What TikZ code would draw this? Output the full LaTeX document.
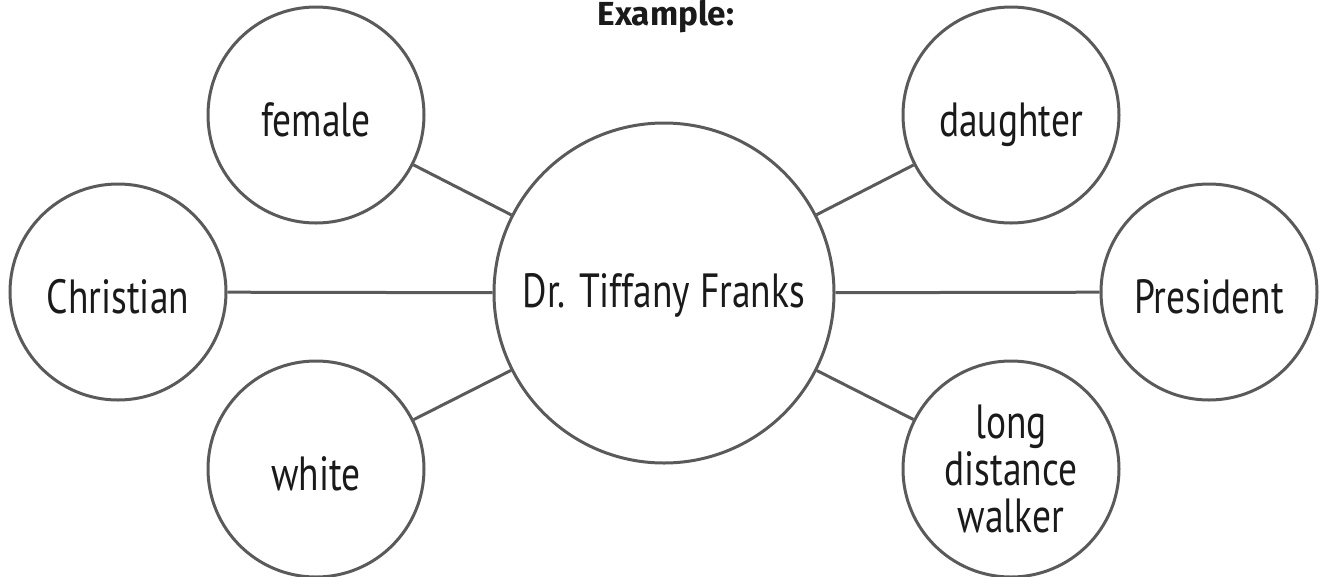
\documentclass[tikz,border=0pt]{standalone}
\usepackage{fontspec}
\setmainfont{Fira Sans}
\newfontfamily\handfont[FakeStretch=0.78]{PT Sans}
\definecolor{linegray}{HTML}{5A5A5A}
\definecolor{textdark}{HTML}{1A1A1A}
\begin{document}
\begin{tikzpicture}[x=0.75pt,y=-0.75pt,
  bubble/.style={circle,draw=linegray,line width=2.25pt,inner sep=0pt,
    minimum size=162pt,align=center,text=textdark,
    font=\handfont\fontsize{36}{35.25}\selectfont},
  onebubble/.style={bubble,text height=36pt,text depth=4.5pt},
  bigbubble/.style={bubble,minimum size=255pt,text height=26pt,text depth=5pt},
  link/.style={draw=linegray,line width=2.25pt}]
\useasboundingbox (0,0) rectangle (1322,576);
\node[font=\bfseries\fontsize{25}{29}\selectfont,text=textdark] (title) at (666,17) {Example:};
\node[bigbubble] (center) at (664,293) {Dr. Tiffany Franks};
\node[onebubble] (female) at (316,115) {female};
\node[onebubble] (christian) at (118,292) {Christian};
\node[onebubble] (white) at (316,469) {white};
\node[onebubble] (daughter) at (1011,115) {daughter};
\node[onebubble] (president) at (1209,292) {President};
\node[bubble] (walker) at (1011,469) {long\\distance\\walker};
\path[link] (center) -- (female);
\path[link] (center) -- (christian);
\path[link] (center) -- (white);
\path[link] (center) -- (daughter);
\path[link] (center) -- (president);
\path[link] (center) -- (walker);
\end{tikzpicture}
\end{document}
